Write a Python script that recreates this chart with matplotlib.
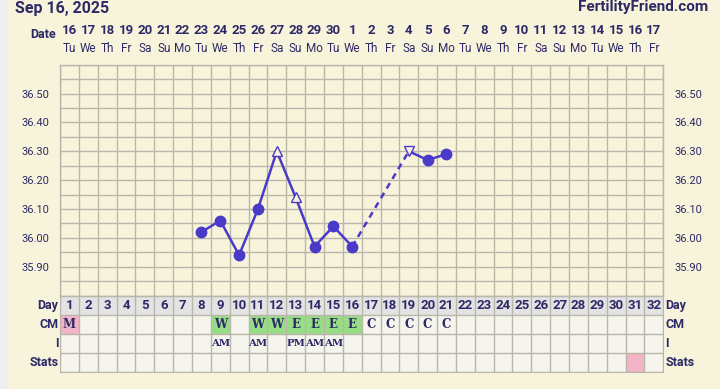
import numpy as np
import matplotlib
matplotlib.use("Agg")
import matplotlib.pyplot as plt
import matplotlib.transforms as mtransforms
from matplotlib.patches import Rectangle

# chart data
cycle_days = list(range(1, 33))
dates = [16, 17, 18, 19, 20, 21, 22, 23, 24, 25, 26, 27, 28, 29, 30,
         1, 2, 3, 4, 5, 6, 7, 8, 9, 10, 11, 12, 13, 14, 15, 16, 17]
weekdays = (["Tu", "We", "Th", "Fr", "Sa", "Su", "Mo"] * 5)[:32]

temp_days = [8, 9, 10, 11, 12, 13, 14, 15, 16, 19, 20, 21]
temps = [36.02, 36.06, 35.94, 36.10, 36.30, 36.14, 35.97, 36.04, 35.97, 36.30, 36.27, 36.29]
temp_markers = ["o", "o", "o", "o", "^", "^", "o", "o", "o", "v", "o", "o"]

cm_days = [1, 9, 11, 12, 13, 14, 15, 16, 17, 18, 19, 20, 21]
cm_vals = ["M", "W", "W", "W", "E", "E", "E", "E", "C", "C", "C", "C", "C"]
i_days = [9, 11, 13, 14, 15]
i_vals = ["AM", "AM", "PM", "AM", "AM"]
stats_pink_days = [31]

y_ticks = [35.90, 36.00, 36.10, 36.20, 36.30, 36.40, 36.50]

bg = "#F8F4DC"
grid_c = "#BAB6AA"
ink = "#2C2966"
line_c = "#4A3AC8"

W, H = 720, 389
fig = plt.figure(figsize=(W / 100, H / 100), dpi=100)
fig.patch.set_facecolor(bg)
fig.add_artist(Rectangle((0, 0), 8 / W, 1, transform=fig.transFigure,
                         facecolor="#EEEEEE", edgecolor="none"))

x0, x1 = 60, 663.3
t_top, t_bot = 64.7, 295.6
r_bot = 371.7

ax = fig.add_axes([x0 / W, 1 - t_bot / H, (x1 - x0) / W, (t_bot - t_top) / H])
axb = fig.add_axes([x0 / W, 1 - r_bot / H, (x1 - x0) / W, (r_bot - t_bot) / H])

# temperature grid
ax.set_xlim(0.5, 32.5)
ax.set_ylim(35.80, 36.60)
ax.set_facecolor(bg)
for x in np.arange(0.5, 33, 1):
    ax.axvline(x, color=grid_c, lw=1.0, zorder=1)
for y in np.arange(35.80, 36.61, 0.05):
    ax.axhline(y, color=grid_c, lw=1.0, zorder=1)
ax.set_xticks([])
ax.set_yticks(y_ticks)
ax.set_yticklabels(["%.2f" % v for v in y_ticks])
ax.tick_params(axis="y", length=0, labelsize=8, labelcolor=ink, pad=8,
               labelleft=True, labelright=True)
for lab in ax.get_yticklabels():
    lab.set_fontfamily("Roboto")
for s in ax.spines.values():
    s.set_color(grid_c)
    s.set_linewidth(1.0)

# temperature line (dashed across missing days)
for k in range(len(temp_days) - 1):
    d0, d1 = temp_days[k], temp_days[k + 1]
    style = "-" if d1 - d0 == 1 else (0, (2.5, 2))
    ax.plot([d0, d1], [temps[k], temps[k + 1]], color=line_c, lw=1.8,
            linestyle=style, zorder=3, solid_capstyle="round")
for d, t, m in zip(temp_days, temps, temp_markers):
    if m == "o":
        ax.plot(d, t, marker="o", ms=7.5, color=line_c, mec=line_c, zorder=4)
    else:
        ax.plot(d, t, marker=m, ms=7.5, color=bg, mec=line_c, mew=1.0, zorder=4)

# bottom rows: 0 Stats, 1 I, 2 CM, 3 Day
axb.set_xlim(0.5, 32.5)
axb.set_ylim(0, 4)
axb.set_xticks([])
axb.set_yticks([])
axb.set_facecolor("#F5F5EE")
axb.add_patch(Rectangle((0.5, 3), 32, 1, facecolor="#E3E3E3", edgecolor="none"))
for d, v in zip(cm_days, cm_vals):
    fc = None
    if v == "M":
        fc = "#F2B4C6"
    elif v in ("W", "E"):
        fc = "#97DD85"
    if fc:
        axb.add_patch(Rectangle((d - 0.5, 2), 1, 1, facecolor=fc, edgecolor="none"))
    axb.text(d, 2.5, v, ha="center", va="center", fontsize=8.5,
             fontweight="bold", color=ink, family="DejaVu Serif")
for d in stats_pink_days:
    axb.add_patch(Rectangle((d - 0.5, 0), 1, 1, facecolor="#F2B4C6", edgecolor="none"))
for d, v in zip(i_days, i_vals):
    axb.text(d, 1.5, v, ha="center", va="center", fontsize=7.3,
             fontweight="bold", color=ink, family="DejaVu Serif")
for d in cycle_days:
    axb.text(d, 3.5, str(d), ha="center", va="center", fontsize=9.5,
             fontweight="bold", color=ink, family="Roboto")
for x in np.arange(0.5, 33, 1):
    axb.axvline(x, color=grid_c, lw=1.0)
for y in range(5):
    axb.axhline(y, color=grid_c, lw=1.0)
for s in axb.spines.values():
    s.set_color(grid_c)
row_names = ["Stats", "I", "CM", "Day"]
for r, name in enumerate(row_names):
    axb.text(0.42, r + 0.5, name, ha="right", va="center", fontsize=9,
             fontweight="bold", color=ink, family="Roboto")
    axb.text(32.62, r + 0.5, name, ha="left", va="center", fontsize=9,
             fontweight="bold", color=ink, family="Roboto")

# header
trans = mtransforms.blended_transform_factory(ax.transData, fig.transFigure)
for d, dt, wd in zip(cycle_days, dates, weekdays):
    fig.text(d, 1 - 31 / H, str(dt), transform=trans, ha="center", va="center",
             fontsize=9.5, fontweight="bold", color=ink, family="Roboto")
    fig.text(d, 1 - 49 / H, wd, transform=trans, ha="center", va="center",
             fontsize=8.5, color=ink, family="Roboto")
fig.text(56 / W, 1 - 35 / H, "Date", ha="right", va="center", fontsize=9,
         fontweight="bold", color=ink, family="Roboto")
fig.text(15 / W, 1 - 8 / H, "Sep 16, 2025", ha="left", va="center", fontsize=11.5,
         fontweight="bold", color=ink, family="Roboto")
fig.text(708 / W, 1 - 7 / H, "FertilityFriend.com", ha="right", va="center",
         fontsize=11, fontweight="bold", color=ink, family="Roboto")

fig.savefig("out.png", dpi=100, facecolor=bg)
